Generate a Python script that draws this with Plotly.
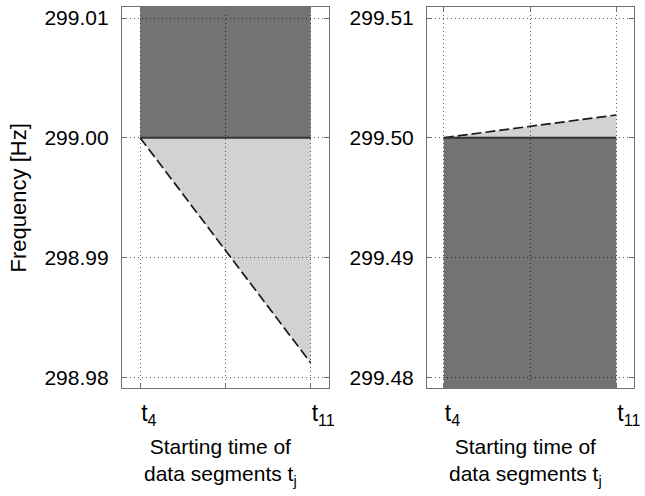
import plotly.graph_objects as go

# ---- data ----
x_seg = [4, 11]                      # starting times t4 .. t11
left_center = [299.00, 299.00]       # solid line, left panel
left_bound = [299.0, 298.9812]       # dashed line, left panel
left_ylim = [298.97908, 299.01092]
right_center = [299.50, 299.50]
right_bound = [299.50, 299.5019]
right_ylim = [299.47908, 299.51092]
left_yticks = [298.98, 298.99, 299.00, 299.01]
right_yticks = [299.48, 299.49, 299.50, 299.51]
x_tickvals = [4, 11]
x_ticktext = ["t<sub>4</sub>", "t<sub>11</sub>"]
x_minor = [7.5]

W, H = 645, 496
FONT = "Liberation Sans, Arial, Helvetica, sans-serif"
DARK = "rgba(0,0,0,0.55)"
LIGHT = "rgba(0,0,0,0.175)"

fig = go.Figure()

def panel(xa, ya, center, bound, ylim, dark_above):
    dark_edge = [ylim[1]] * len(x_seg) if dark_above else [ylim[0]] * len(x_seg)
    fig.add_trace(go.Scatter(x=x_seg, y=dark_edge, mode="lines", line=dict(width=0),
                             xaxis=xa, yaxis=ya, showlegend=False, hoverinfo="skip"))
    fig.add_trace(go.Scatter(x=x_seg, y=center, mode="lines", line=dict(width=0),
                             fill="tonexty", fillcolor=DARK,
                             xaxis=xa, yaxis=ya, showlegend=False, hoverinfo="skip"))
    fig.add_trace(go.Scatter(x=x_seg, y=bound, mode="lines",
                             line=dict(color="#1a1a1a", width=1.7, dash="10px,4px"),
                             fill="tonexty", fillcolor=LIGHT,
                             xaxis=xa, yaxis=ya, showlegend=False))
    fig.add_trace(go.Scatter(x=x_seg, y=center, mode="lines",
                             line=dict(color="#333333", width=2),
                             xaxis=xa, yaxis=ya, showlegend=False))

panel("x", "y", left_center, left_bound, left_ylim, True)
panel("x2", "y2", right_center, right_bound, right_ylim, False)

ytop = 1 - 6 / H
ybot = 1 - 388 / H

axis_common = dict(
    showline=True, linecolor="#707070", linewidth=1, mirror="ticks",
    ticks="inside", ticklen=5, tickcolor="#707070",
    showgrid=True, gridcolor="#606060", gridwidth=1, griddash="1px,3px",
    zeroline=False, fixedrange=True,
)
minor_x = dict(tickvals=x_minor, ticks="inside", ticklen=5, tickcolor="#707070",
               showgrid=True, gridcolor="#606060", gridwidth=1, griddash="1px,3px")

xtitle = "Starting time of<br>data segments t<sub>j</sub>"

fig.update_layout(
    width=W, height=H,
    margin=dict(l=0, r=0, t=0, b=0),
    paper_bgcolor="white", plot_bgcolor="white",
    font=dict(family=FONT, size=21, color="black"),
    xaxis=dict(domain=[123 / W, 332 / W], range=[3.25, 11.75], anchor="y",
               tickvals=x_tickvals, ticktext=x_ticktext, minor=minor_x,
               tickfont=dict(family=FONT, size=23, color="black"),
               ticklabelposition="outside right", ticklabelstandoff=4, **axis_common),
    yaxis=dict(domain=[ybot, ytop], range=left_ylim, anchor="x",
               tickvals=left_yticks, ticktext=[f"{v:.2f}" for v in left_yticks],
               tickfont=dict(family=FONT, size=21, color="black"),
               ticklabelstandoff=8, **axis_common),
    xaxis2=dict(domain=[431 / W, 640 / W], range=[3.32, 11.72], anchor="y2",
                tickvals=x_tickvals, ticktext=x_ticktext, minor=minor_x,
                tickfont=dict(family=FONT, size=23, color="black"),
                ticklabelposition="outside right", ticklabelstandoff=4, **axis_common),
    yaxis2=dict(domain=[ybot, ytop], range=right_ylim, anchor="x2",
                tickvals=right_yticks, ticktext=[f"{v:.2f}" for v in right_yticks],
                tickfont=dict(family=FONT, size=21, color="black"),
                ticklabelstandoff=8, **axis_common),
    annotations=[
        dict(text="Frequency [Hz]", x=19 / W, y=(ybot + ytop) / 2, xref="paper", yref="paper",
             textangle=-90, showarrow=False, xanchor="center", yanchor="middle",
             font=dict(family=FONT, size=22)),
        dict(text=xtitle, x=223 / W, y=1 - 462 / H, xref="paper", yref="paper",
             showarrow=False, xanchor="center", yanchor="middle", font=dict(family=FONT, size=21)),
        dict(text=xtitle, x=530 / W, y=1 - 462 / H, xref="paper", yref="paper",
             showarrow=False, xanchor="center", yanchor="middle", font=dict(family=FONT, size=21)),
    ],
)

fig.write_html("out.html", config={"displayModeBar": False},
               post_script="document.body.style.margin='0';document.body.style.overflow='hidden';")
